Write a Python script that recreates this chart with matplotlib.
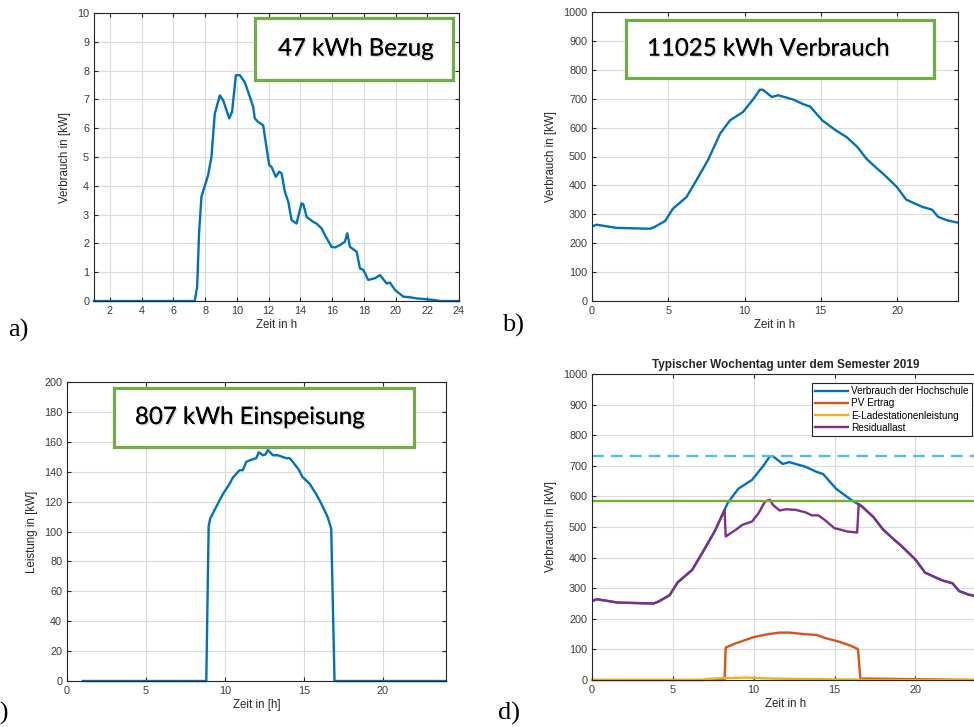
import matplotlib
matplotlib.use("Agg")
import matplotlib.pyplot as plt
import matplotlib.patheffects as pe

# ---- data ----
# a) Bezug
bezug_t = [1, 7.35, 7.5, 7.62, 7.77, 8.19, 8.4, 8.61, 8.93, 9.14, 9.52, 9.7, 9.94, 10.19,
           10.5, 10.82, 11.03, 11.13, 11.34, 11.66, 12.04, 12.18, 12.46, 12.67, 12.82, 13.03,
           13.24, 13.45, 13.76, 14.08, 14.19, 14.4, 14.81, 15.02, 15.34, 15.55, 15.97, 16.18,
           16.5, 16.81, 16.96, 17.13, 17.55, 17.76, 17.97, 18.28, 18.7, 19.02, 19.44, 19.65,
           19.97, 20.18, 20.49, 20.91, 21.33, 21.96, 22.49, 22.8, 24]
bezug_kw = [0, 0, 0.5, 2.35, 3.62, 4.37, 5.0, 6.5, 7.14, 6.97, 6.34, 6.57, 7.84, 7.84,
            7.6, 7.09, 6.74, 6.34, 6.22, 6.1, 4.72, 4.66, 4.31, 4.49, 4.43, 3.79,
            3.45, 2.81, 2.69, 3.39, 3.36, 2.92, 2.75, 2.69, 2.52, 2.29, 1.88, 1.86,
            1.94, 2.06, 2.35, 1.88, 1.71, 1.13, 1.08, 0.73, 0.79, 0.9, 0.61, 0.64,
            0.38, 0.29, 0.15, 0.13, 0.09, 0.06, 0.03, 0, 0]

# b) / d) Verbrauch der Hochschule
verb_t = [0, 0.3, 1.6, 3.8, 4.1, 4.8, 5.3, 6.2, 6.85, 7.6, 8.4, 9.05, 9.9, 10.6, 11.0, 11.2,
          11.8, 12.2, 13.2, 13.9, 14.3, 15.1, 16.0, 16.7, 17.4, 18.0, 18.7, 19.1, 20.0, 20.6,
          21.3, 21.7, 22.3, 22.7, 23.3, 24]
verb_kw = [258, 264, 253, 250, 256, 277, 319, 360, 418, 487, 579, 625, 654, 700, 731, 731,
           706, 712, 697, 680, 673, 625, 590, 567, 533, 492, 458, 440, 394, 351,
           334, 325, 316, 291, 279, 271]

# c) Einspeisung
pv_t = [1, 8.82, 8.97, 9.07, 9.45, 9.87, 10.3, 10.5, 10.93, 11.14, 11.35, 11.67, 11.98, 12.15,
        12.4, 12.57, 12.72, 13.04, 13.35, 13.9, 14.1, 14.3, 14.7, 14.9, 15.36, 15.78, 16.1,
        16.5, 16.73, 16.94, 24]
pv_kw = [0, 0, 103.6, 108.7, 116.5, 125, 132, 136, 141, 141, 146.6, 148, 149, 153,
         151, 151.5, 154.5, 151, 151, 149, 149, 146.6, 141, 136.6, 132, 125, 118.7,
         109.8, 102, 0, 0]

# d) PV Ertrag, E-Lade, Residuallast
pvd_t = [0, 8.2, 8.27, 8.9, 10.0, 10.8, 11.6, 12.2, 13.1, 13.9, 14.5, 15.3, 16.0, 16.45, 16.6, 24]
pvd_kw = [0, 0, 106, 120, 140, 149, 155, 155, 150, 147, 136, 125, 112, 101, 5, 0]

lade_t = [0, 6.9, 7, 8, 9, 9.5, 10, 11, 12, 13, 14, 15, 16, 16.6, 17, 24]
lade_kw = [0, 0, 3, 6, 7, 8, 7, 5, 4, 3, 3, 2, 2, 1, 0, 0]

res_t = [0, 0.3, 1.6, 3.8, 4.1, 4.8, 5.3, 6.2, 6.85, 7.6, 8.2, 8.27, 8.9, 9.3, 9.9, 10.3,
         10.7, 11.0, 11.2, 11.6, 12.0, 12.6, 13.2, 13.6, 14.0, 14.4, 15.0, 15.4, 15.8, 16.4,
         16.5, 16.7, 17.4, 18.0, 18.7, 19.1, 20.0, 20.6, 21.3, 21.7, 22.3, 22.7, 23.3, 24]
res_kw = [258, 264, 253, 250, 256, 277, 319, 360, 418, 487, 556, 469, 491, 507, 518, 545,
          583, 589, 572, 554, 558, 556, 548, 538, 538, 523, 496, 491, 485, 482,
          575, 567, 533, 492, 458, 440, 394, 351, 334, 325, 316, 291, 279, 271]

spitze = 731
grenze = 585

# ---- style ----
plt.rcParams['font.family'] = ['Liberation Sans', 'DejaVu Sans']
plt.rcParams['font.size'] = 7.5
dark = '#262626'
W, H = 974, 727
LW = 1.7

fig = plt.figure(figsize=(W / 100, H / 100), dpi=100)


def mkax(l, r, t, b):
    ax = fig.add_axes([l / W, 1 - b / H, (r - l) / W, (b - t) / H])
    ax.grid(True, color='#dadada', lw=0.8)
    ax.set_axisbelow(True)
    ax.tick_params(direction='in', length=3, top=True, right=True, colors=dark,
                   labelsize=7.8, labelcolor='#3a3a3a')
    for s in ax.spines.values():
        s.set_color(dark)
        s.set_linewidth(0.8)
    return ax


def infobox(x0, y0, x1, y1, txt, tx, fs):
    # box in pixel coordinates of the figure
    r = plt.Rectangle((x0 / W, 1 - y1 / H), (x1 - x0) / W, (y1 - y0) / H,
                      transform=fig.transFigure, fill=True, fc='white',
                      ec='#70AD47', lw=2.3, zorder=5)
    fig.add_artist(r)
    t = fig.text(tx / W, 1 - (y0 + y1) / 2 / H, txt, family=['Lato', 'DejaVu Sans'],
                 fontsize=fs, ha='left', va='center', color='black', zorder=6)
    t.set_path_effects([pe.withSimplePatchShadow(offset=(1.0, -1.0), shadow_rgbFace='gray',
                                                 alpha=0.35), pe.Normal()])


blue = '#0072BD'

# a)
ax1 = mkax(94, 459, 13, 301)
ax1.plot(bezug_t, bezug_kw, color=blue, lw=LW, clip_on=False)
ax1.set_xlim(1, 24)
ax1.set_ylim(0, 10)
ax1.set_xticks(range(2, 25, 2))
ax1.set_yticks(range(0, 11))
ax1.set_xlabel('Zeit in h', fontsize=8.3, color=dark, labelpad=2)
ax1.set_ylabel('Verbrauch in [kW]', fontsize=8.3, color=dark, labelpad=4)
infobox(255, 18, 453, 80, '47 kWh Bezug', 278, 17.3)

# b)
ax2 = mkax(592, 958, 12, 301)
ax2.plot(verb_t, verb_kw, color=blue, lw=LW)
ax2.set_xlim(0, 24)
ax2.set_ylim(0, 1000)
ax2.set_xticks(range(0, 21, 5))
ax2.set_yticks(range(0, 1001, 100))
ax2.set_xlabel('Zeit in h', fontsize=8.3, color=dark, labelpad=2)
ax2.set_ylabel('Verbrauch in [kW]', fontsize=8.3, color=dark, labelpad=4)
infobox(626, 20, 934, 78, '11025 kWh Verbrauch', 647, 17.3)

# c)
ax3 = mkax(67, 446, 382, 681)
ax3.plot(pv_t, pv_kw, color=blue, lw=LW, clip_on=False)
ax3.set_xlim(0, 24)
ax3.set_ylim(0, 200)
ax3.set_xticks(range(0, 21, 5))
ax3.set_yticks(range(0, 201, 20))
ax3.set_xlabel('Zeit in [h]', fontsize=8.3, color=dark, labelpad=2)
ax3.set_ylabel('Leistung in [kW]', fontsize=8.3, color=dark, labelpad=4)
infobox(114, 388, 414, 447, '807 kWh Einspeisung', 135, 17.3)

# d)
ax4 = mkax(592, 980, 374, 680)
ax4.plot(verb_t, verb_kw, color=blue, lw=LW, label='Verbrauch der Hochschule')
ax4.plot(pvd_t, pvd_kw, color='#D95319', lw=LW, label='PV Ertrag', clip_on=False)
ax4.plot(lade_t, lade_kw, color='#EDB120', lw=LW, label='E-Ladestationenleistung', clip_on=False)
ax4.plot(res_t, res_kw, color='#7E2F8E', lw=LW, label='Residuallast')
ax4.axhline(spitze, color='#4DBEEE', lw=LW, ls=(0, (5, 3)))
ax4.axhline(grenze, color='#77AC30', lw=LW)
ax4.set_xlim(0, 24)
ax4.set_ylim(0, 1000)
ax4.set_xticks(range(0, 21, 5))
ax4.set_yticks(range(0, 1001, 100))
ax4.set_xlabel('Zeit in h', fontsize=8.3, color=dark, labelpad=2)
ax4.set_ylabel('Verbrauch in [kW]', fontsize=8.3, color=dark, labelpad=4)
ax4.set_title('Typischer Wochentag unter dem Semester 2019', fontsize=8.5,
              fontweight='bold', color=dark, pad=4)
leg = ax4.legend(loc='upper left', bbox_to_anchor=((812 - 592) / 388, 0.97), fontsize=7.2,
                 frameon=True, fancybox=False, edgecolor=dark, framealpha=1,
                 handlelength=3.3, handletextpad=0.3, borderpad=0.3, labelspacing=0.22,
                 borderaxespad=0)
leg.get_frame().set_linewidth(0.8)

# panel letters
for x, y, s in [(8, 330, 'a)'), (502, 325, 'b)'), (-12, 713, 'c)'), (498, 713, 'd)')]:
    fig.text(x / W, 1 - y / H, s, family=['Liberation Serif', 'DejaVu Serif'],
             fontsize=19, ha='left', va='center')

fig.savefig('out.png', dpi=100)
